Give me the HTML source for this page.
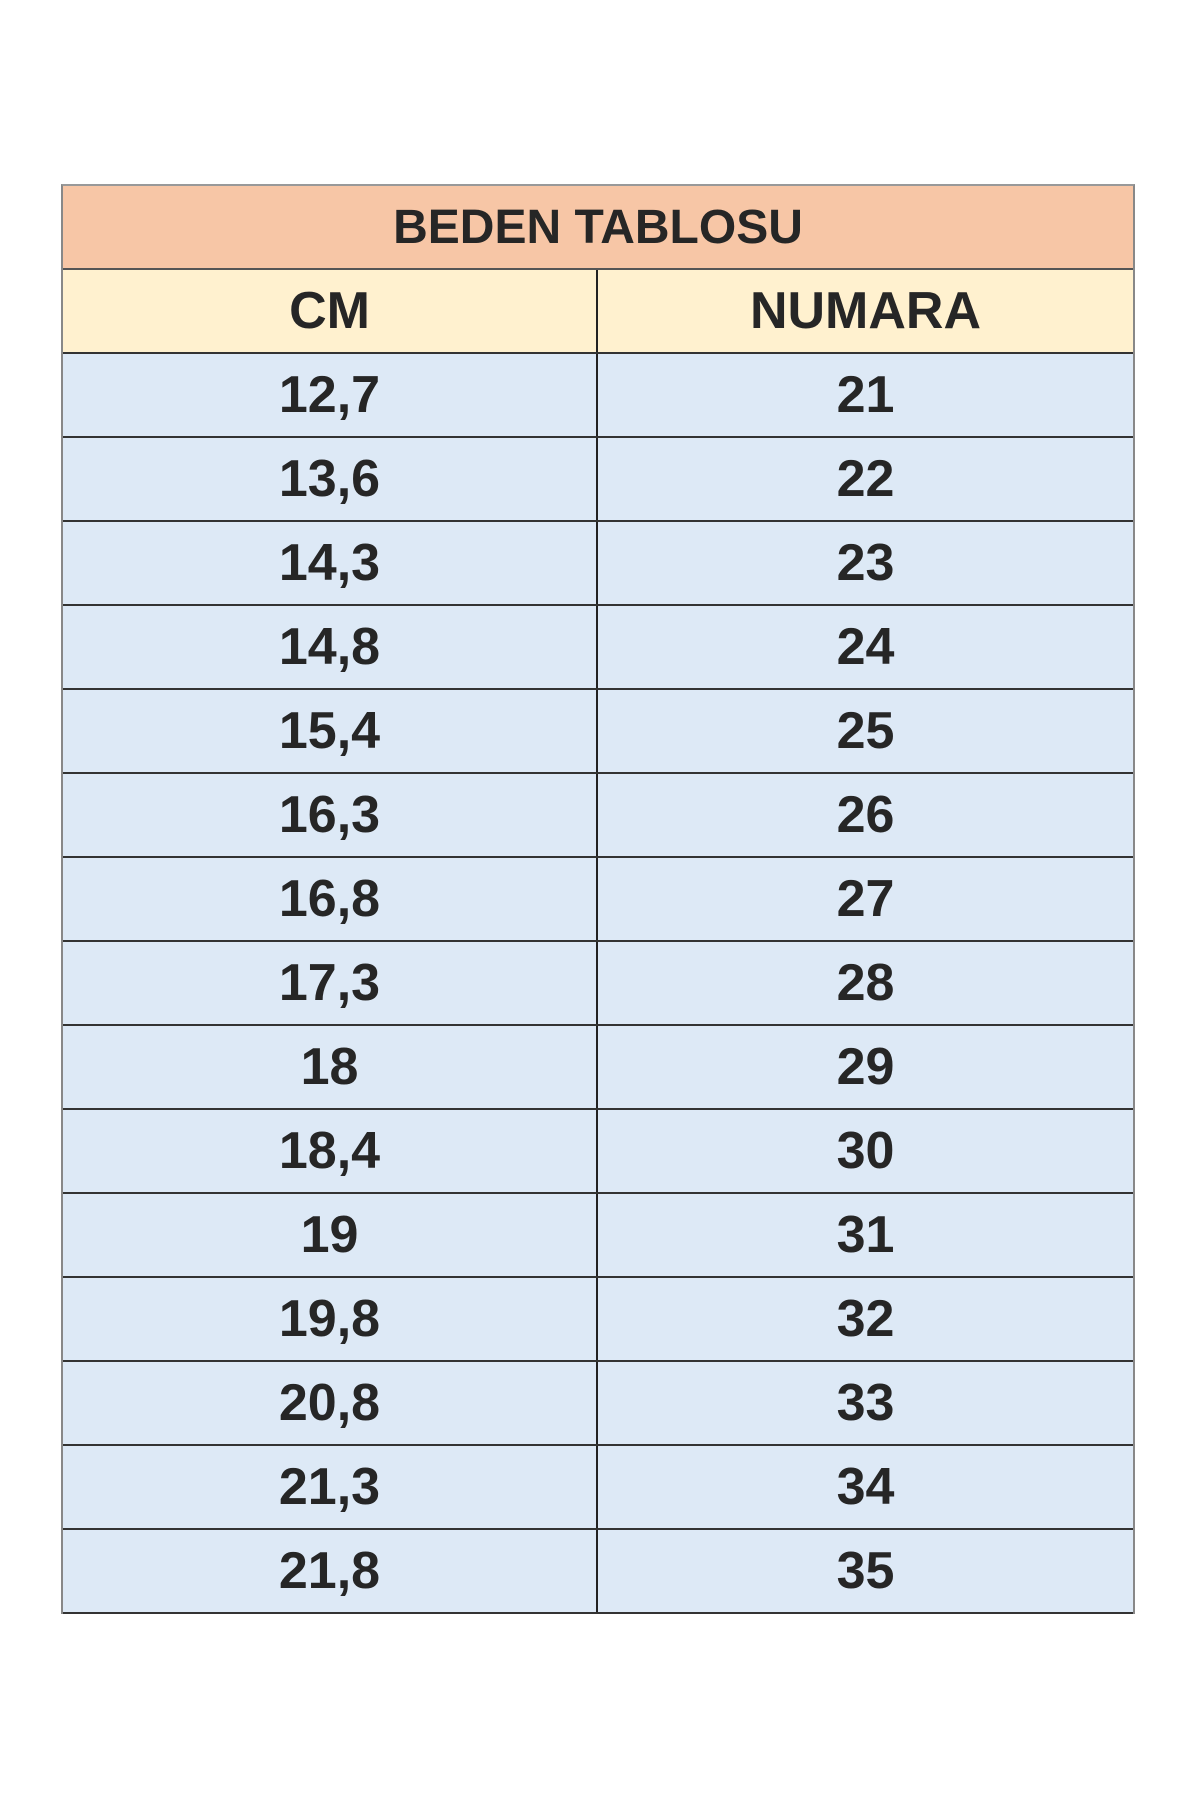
<!DOCTYPE html><html><head><style>
body{margin:0;width:1200px;height:1800px;background:#fff;position:relative;font-family:"Liberation Sans",sans-serif;font-weight:bold;color:#262626}
.t{position:absolute;left:61px;top:184px;width:1070px;border-left:2px solid #888;border-right:2px solid #888;border-top:2px solid #999}
.r{display:flex;height:82px;border-bottom:2px solid #333;font-size:52px;align-items:center}
.c{flex:0 0 533px;text-align:center;line-height:82px;height:82px}
.c+.c{flex:1;border-left:2px solid #222}
.b .c{background:#dde9f6}
</style></head><body>
<div class="t">
<div class="r" style="background:#f7c6a6;justify-content:center;font-size:48px;border-bottom-color:#555">BEDEN TABLOSU</div>
<div class="r" style="background:#fff1cf"><div class="c">CM</div><div class="c">NUMARA</div></div>
<div class="r b"><div class="c">12,7</div><div class="c">21</div></div>
<div class="r b"><div class="c">13,6</div><div class="c">22</div></div>
<div class="r b"><div class="c">14,3</div><div class="c">23</div></div>
<div class="r b"><div class="c">14,8</div><div class="c">24</div></div>
<div class="r b"><div class="c">15,4</div><div class="c">25</div></div>
<div class="r b"><div class="c">16,3</div><div class="c">26</div></div>
<div class="r b"><div class="c">16,8</div><div class="c">27</div></div>
<div class="r b"><div class="c">17,3</div><div class="c">28</div></div>
<div class="r b"><div class="c">18</div><div class="c">29</div></div>
<div class="r b"><div class="c">18,4</div><div class="c">30</div></div>
<div class="r b"><div class="c">19</div><div class="c">31</div></div>
<div class="r b"><div class="c">19,8</div><div class="c">32</div></div>
<div class="r b"><div class="c">20,8</div><div class="c">33</div></div>
<div class="r b"><div class="c">21,3</div><div class="c">34</div></div>
<div class="r b"><div class="c">21,8</div><div class="c">35</div></div>
</div>
</body></html>
